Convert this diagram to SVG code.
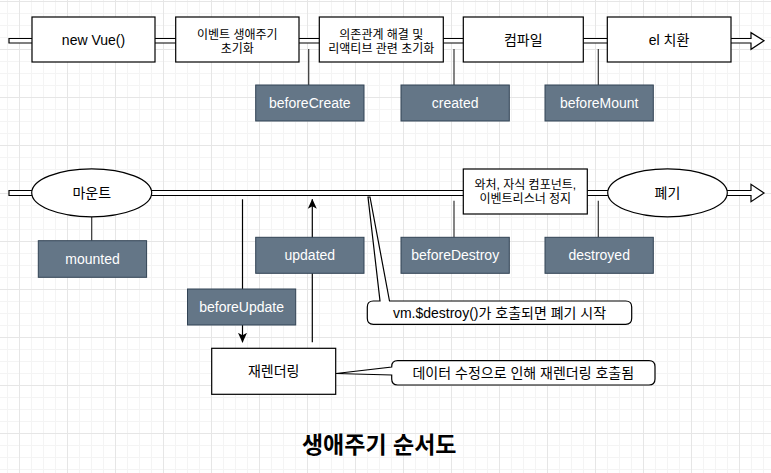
<svg xmlns="http://www.w3.org/2000/svg" width="771" height="473" viewBox="0 0 771 473">
<defs>
<pattern id="minor" width="12" height="12" patternUnits="userSpaceOnUse" x="7" y="1">
<rect x="0" y="0" width="12" height="1" fill="#f4f4f4"/><rect x="0" y="0" width="1" height="12" fill="#f4f4f4"/>
</pattern>
<pattern id="major" width="48" height="48" patternUnits="userSpaceOnUse" x="19" y="1">
<rect x="0" y="0" width="48" height="1" fill="#e6e6e6"/><rect x="0" y="0" width="1" height="48" fill="#e6e6e6"/>
</pattern>
<marker id="ah" markerWidth="10" markerHeight="10" viewBox="0 0 10 10" refX="9.5" refY="5" orient="auto" markerUnits="userSpaceOnUse">
<path d="M0,0.5 L10,5 L0,9.5 L2.5,5 Z" fill="#000"/>
</marker>
<style>
.box{fill:#fff;stroke:#000;stroke-width:1.2}
.hook{fill:#647687;stroke:#314354;stroke-width:1}
.t{font-family:"Liberation Sans","Noto Sans CJK KR",sans-serif;font-size:14px;fill:#000;text-anchor:middle}
.k{font-family:"Liberation Sans","Noto Sans CJK KR",sans-serif;font-size:12px;fill:#000;text-anchor:middle}
.w{font-family:"Liberation Sans","Noto Sans CJK KR",sans-serif;font-size:14px;fill:#fff;text-anchor:middle}
.flex{fill:#fff;stroke:#000;stroke-width:1.2}
.ln{fill:none;stroke:#333;stroke-width:1.2}
.arr{fill:none;stroke:#000;stroke-width:1.2}
</style>
</defs>
<rect width="771" height="473" fill="#fff"/>
<rect width="771" height="473" fill="url(#minor)"/>
<rect width="771" height="473" fill="url(#major)"/>

<g id="connectors">
<path class="flex" d="M9,38.5 L751,38.5 L751,32.7 L764,40.8 L751,49.3 L751,43 L9,43 Z"/>
<path class="flex" d="M9,190.5 L751,190.5 L751,184.3 L764,193 L751,201.7 L751,195.5 L9,195.5 Z"/>
<line class="ln" x1="308.7" y1="49" x2="308.7" y2="85"/>
<line class="ln" x1="454" y1="49" x2="454" y2="85"/>
<line class="ln" x1="598.3" y1="49" x2="598.3" y2="85"/>
<line class="ln" x1="91.7" y1="216.7" x2="91.7" y2="240.7"/>
<line class="ln" x1="454" y1="200.7" x2="454" y2="237.3"/>
<line class="ln" x1="598.3" y1="200.7" x2="598.3" y2="237.3"/>
<line class="arr" x1="242.5" y1="199.3" x2="242.5" y2="342.3" marker-end="url(#ah)"/>
<line class="arr" x1="312.3" y1="342.3" x2="312.3" y2="199.3" marker-end="url(#ah)"/>
</g>

<g id="node-newvue"><rect class="box" x="32" y="17" width="123" height="45"/><text class="t" x="93.5" y="44.5">new Vue()</text></g>
<g id="node-event-init"><rect class="box" x="175.7" y="17" width="123.3" height="45"/><text class="k" x="237.3" y="38.5">이벤트 생애주기</text><text class="k" x="237.3" y="52.5">초기화</text></g>
<g id="node-reactive-init"><rect class="box" x="319.3" y="17" width="124" height="45"/><text class="k" x="381.3" y="38.5">의존관계 해결 및</text><text class="k" x="381.3" y="52.5">리액티브 관련 초기화</text></g>
<g id="node-compile"><rect class="box" x="463.3" y="17" width="120" height="45"/><text class="t" x="523.3" y="44.5">컴파일</text></g>
<g id="node-el"><rect class="box" x="607.3" y="17" width="123.7" height="45"/><text class="t" x="669" y="44.5">el 치환</text></g>

<g id="hook-beforeCreate"><rect class="hook" x="255.7" y="85" width="108.3" height="36"/><text class="w" x="309.8" y="108">beforeCreate</text></g>
<g id="hook-created"><rect class="hook" x="401" y="85" width="108.3" height="36"/><text class="w" x="455.2" y="108">created</text></g>
<g id="hook-beforeMount"><rect class="hook" x="545" y="85" width="108.3" height="36"/><text class="w" x="599.2" y="108">beforeMount</text></g>

<g id="node-mount"><ellipse class="box" cx="91.7" cy="192.8" rx="60" ry="24"/><text class="t" x="91.7" y="197.8">마운트</text></g>
<g id="hook-mounted"><rect class="hook" x="38.3" y="240.7" width="108.3" height="36.6"/><text class="w" x="92.5" y="264">mounted</text></g>
<g id="hook-updated"><rect class="hook" x="255.7" y="237.3" width="108.3" height="36"/><text class="w" x="309.8" y="260.3">updated</text></g>
<g id="hook-beforeUpdate"><rect class="hook" x="187.5" y="289" width="108.2" height="36"/><text class="w" x="241.6" y="312">beforeUpdate</text></g>
<g id="node-rerender"><rect class="box" x="211.7" y="348.3" width="124" height="46"/><text class="t" x="273.7" y="376.3">재렌더링</text></g>

<g id="node-stop"><rect class="box" x="463.3" y="169" width="124" height="45"/><text class="k" x="525.3" y="188.5">와처, 자식 컴포넌트,</text><text class="k" x="525.3" y="203">이벤트리스너 정지</text></g>
<g id="node-destroy"><ellipse class="box" cx="667.5" cy="192.8" rx="59.8" ry="24"/><text class="t" x="667.5" y="197.8">폐기</text></g>
<g id="hook-beforeDestroy"><rect class="hook" x="401" y="237.3" width="108.3" height="36"/><text class="w" x="455.2" y="260.3">beforeDestroy</text></g>
<g id="hook-destroyed"><rect class="hook" x="545" y="237.3" width="108.3" height="36"/><text class="w" x="599.2" y="260.3">destroyed</text></g>

<g id="callout-destroy"><path class="box" d="M373.3,301 L380,301 L368,197 L370,197 L389.5,301 L625.7,301 Q631.7,301 631.7,307 L631.7,318.3 Q631.7,324.3 625.7,324.3 L373.3,324.3 Q367.3,324.3 367.3,318.3 L367.3,307 Q367.3,301 373.3,301 Z"/><text class="t" x="499.5" y="317.7">vm.$destroy()가 호출되면 폐기 시작</text></g>
<g id="callout-rerender"><path class="box" d="M397.7,360.7 L649,360.7 Q655,360.7 655,366.7 L655,379 Q655,385 649,385 L397.7,385 Q391.7,385 391.7,379 L391.7,375 L336,373.5 L391.7,367 L391.7,366.7 Q391.7,360.7 397.7,360.7 Z"/><text class="t" x="523.3" y="377.8">데이터 수정으로 인해 재렌더링 호출됨</text></g>

<g id="title"><text x="379.2" y="453" style="font-family:'Liberation Sans','Noto Sans CJK KR',sans-serif;font-size:23px;font-weight:bold;text-anchor:middle;fill:#000">생애주기 순서도</text></g>
</svg>
